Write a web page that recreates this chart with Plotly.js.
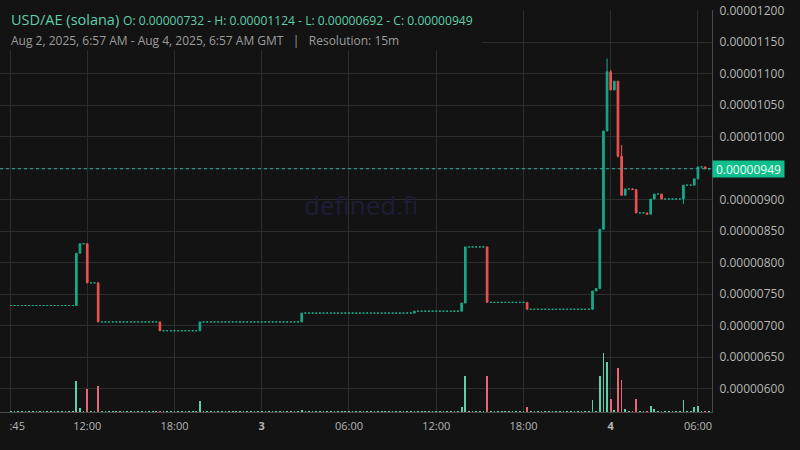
<!DOCTYPE html>
<html>
<head>
<meta charset="utf-8">
<script src="https://cdn.plot.ly/plotly-3.0.1.min.js"></script>
<style>
  html, body { margin: 0; padding: 0; background: #131313; }
  #myDiv { width: 800px; height: 450px; }
</style>
</head>
<body>
<div id="myDiv"></div>
<script>
// prices in units of 0.00000001, 15m candles from Aug 2 06:45 to Aug 4 06:45 (GMT)
var open = [
  732,732,732,732,732,732,732,732,732,
  732,732,732,732,732,732,732,732,732,
  732,815,830,830,768,768,768,
  706,706,706,706,706,706,706,706,
  706,706,706,706,706,706,706,706,
  706,
  692,692,692,692,692,692,692,692,692,692,
  692,
  706,706,706,706,706,706,706,706,706,
  706,706,706,706,706,706,706,706,706,
  706,706,706,706,706,706,706,706,706,
  706,
  720,720,720,720,720,720,720,720,720,720,
  720,720,720,720,720,720,720,720,720,720,
  720,720,720,720,720,720,720,720,720,720,
  720,
  723,723,723,723,723,723,723,723,723,723,723,723,
  723,736,
  825,825,825,825,825,
  825,
  737,737,737,737,737,737,737,737,737,737,
  737,
  726,726,726,726,726,726,726,726,726,
  726,726,726,726,726,726,726,726,
  726,755,759,853,1009,1103,1074,1088,969,907,
  917,917,916,879,879,879,877,901,909,909,
  901,901,901,901,901,
  901,923,923,923,933,952,952,949
];
var high = [
  732,732,732,732,732,732,732,732,732,
  732,732,732,732,732,732,732,732,732,
  815,830,830,830,768,768,768,
  706,706,706,706,706,706,706,706,
  706,706,706,706,706,706,706,706,
  706,
  692,692,692,692,692,692,692,692,692,692,
  706,
  706,706,706,706,706,706,706,706,706,
  706,706,706,706,706,706,706,706,706,
  706,706,706,706,706,706,706,706,706,
  720,
  720,720,720,720,720,720,720,720,720,720,
  720,720,720,720,720,720,720,720,720,720,
  720,720,720,720,720,720,720,720,720,720,
  723,
  723,723,723,723,723,723,723,723,723,723,723,723,
  736,825,
  825,825,825,825,825,
  825,
  737,737,737,737,737,737,737,737,737,737,
  737,
  726,726,726,726,726,726,726,726,726,
  726,726,726,726,726,726,726,726,
  755,759,853,1009,1124,1106,1088,1088,987,917,
  917,918,916,879,879,879,901,909,909,909,
  901,901,901,901,901,
  923,923,923,933,952,952,952,949
];
var low = [
  732,732,732,732,732,732,732,732,732,
  732,732,732,732,732,732,732,732,732,
  732,815,830,768,768,768,706,
  706,706,706,706,706,706,706,706,
  706,706,706,706,706,706,706,706,
  692,
  692,692,692,692,692,692,692,692,692,692,
  692,
  706,706,706,706,706,706,706,706,706,
  706,706,706,706,706,706,706,706,706,
  706,706,706,706,706,706,706,706,706,
  706,
  720,720,720,720,720,720,720,720,720,720,
  720,720,720,720,720,720,720,720,720,720,
  720,720,720,720,720,720,720,720,720,720,
  720,
  723,723,723,723,723,723,723,723,723,723,723,723,
  723,736,
  825,825,825,825,825,
  737,
  737,737,737,737,737,737,737,737,737,737,
  726,
  726,726,726,726,726,726,726,726,726,
  726,726,726,726,726,726,726,726,
  726,755,759,853,1009,1074,1074,967,907,907,
  917,916,879,879,879,877,877,901,909,901,
  901,901,901,901,901,
  893,923,923,923,933,952,949,949
];
var close = [
  732,732,732,732,732,732,732,732,732,
  732,732,732,732,732,732,732,732,732,
  815,830,830,768,768,768,706,
  706,706,706,706,706,706,706,706,
  706,706,706,706,706,706,706,706,
  692,
  692,692,692,692,692,692,692,692,692,692,
  706,
  706,706,706,706,706,706,706,706,706,
  706,706,706,706,706,706,706,706,706,
  706,706,706,706,706,706,706,706,706,
  720,
  720,720,720,720,720,720,720,720,720,720,
  720,720,720,720,720,720,720,720,720,720,
  720,720,720,720,720,720,720,720,720,720,
  723,
  723,723,723,723,723,723,723,723,723,723,723,723,
  736,825,
  825,825,825,825,825,
  737,
  737,737,737,737,737,737,737,737,737,737,
  726,
  726,726,726,726,726,726,726,726,726,
  726,726,726,726,726,726,726,726,
  755,759,853,1009,1103,1074,1088,969,907,917,
  917,916,879,879,879,877,901,909,909,901,
  901,901,901,901,901,
  923,923,923,933,952,952,949,949
];
var volume = [
  1,1,1,1,1,1,1,1,1,
  1,1,1,1,1,1,1,1,1,
  31,4,1,23,1,1,26,
  1,1,1,1,1,1,1,1,
  1,1,1,1,1,1,1,1,
  1.5,
  1,1,1,1,1,1,1,1,1,1,
  11,
  1,1,1,1,1,1,1,1,1,
  1,1,1,1,1,1,1,1,1,
  1,1,1,1,1,1,1,1,1,
  2,
  1,1,1,1,1,1,1,1,1,1,
  1,1,1,1,1,1,1,1,1,1,
  1,1,1,1,1,1,1,1,1,1,
  1,
  1,1,1,1,1,1,1,1,1,1,1,1,
  5,36,
  1,1,1,1,1,
  36,
  1,1,1,1,1,1,1,1,1,1,
  5,
  1,1,1,1,1,1,1,1,1,
  1,1,1,1,1,1,1,1,
  12,1.5,36,59,50,13,2,44,32,3,
  1,1.5,13,1,1,1.5,6,3,1,1.5,
  1,1,1,1,1,
  12,1,1,5,6,1,1.5,1
];
var tickTimes = ['2025-08-02 06:45','2025-08-02 12:00','2025-08-02 18:00','2025-08-03 00:00',
  '2025-08-03 06:00','2025-08-03 12:00','2025-08-03 18:00','2025-08-04 00:00','2025-08-04 06:00'];
var tickLabels = ['06:45','12:00','18:00','<b>3</b>','06:00','12:00','18:00','<b>4</b>','06:00'];
var priceTicks = [600,650,700,750,800,850,900,950,1000,1050,1100,1150,1200];
var lastPrice = 949;

var SCALE = 1e-8;
var GREEN = '#17a98a';
var RED = '#ef5350';

var start = Date.UTC(2025, 7, 2, 6, 45);
var times = [];
for (var i = 0; i < close.length; i++) {
  var d = new Date(start + i * 15 * 60000);
  times.push(d.toISOString().slice(0, 16).replace('T', ' '));
}

// flat candles are drawn as teal dashes, the others as normal candles
var mov = {x: [], o: [], h: [], l: [], c: []};
var flat = {x: [], o: [], h: [], l: [], c: []};
var volColors = [];
for (var i = 0; i < close.length; i++) {
  var t = (open[i] === close[i]) ? flat : mov;
  t.x.push(times[i]);
  t.o.push(open[i] * SCALE);
  t.h.push(high[i] * SCALE);
  t.l.push(low[i] * SCALE);
  t.c.push(close[i] * SCALE);
  volColors.push(close[i] < open[i] ? '#e2687a' : '#5ccfac');
}

// price tick labels, the one under the last price box stays empty
var yVals = [], yText = [];
for (var i = 0; i < priceTicks.length; i++) {
  yVals.push(priceTicks[i] * SCALE);
  yText.push(Math.abs(priceTicks[i] - lastPrice) < 10 ? '' : (priceTicks[i] * SCALE).toFixed(8));
}

var vol = {
  x: times, y: volume, type: 'bar', yaxis: 'y2',
  marker: {color: volColors, line: {width: 0}},
  width: 7 * 60000, hoverinfo: 'skip'
};
var flatTrace = {
  x: flat.x, open: flat.o, high: flat.h, low: flat.l, close: flat.c,
  type: 'candlestick',
  increasing: {line: {color: GREEN, width: 1}, fillcolor: GREEN},
  decreasing: {line: {color: GREEN, width: 1}, fillcolor: GREEN},
  hoverinfo: 'skip'
};
var movTrace = {
  x: mov.x, open: mov.o, high: mov.h, low: mov.l, close: mov.c,
  type: 'candlestick',
  increasing: {line: {color: GREEN, width: 1}, fillcolor: GREEN},
  decreasing: {line: {color: RED, width: 1}, fillcolor: RED},
  hoverinfo: 'skip'
};

var font = 'Open Sans, Noto Sans, sans-serif';
var plotTop = 10, plotBottom = 412, plotRight = 712;
function py(pix) { return (plotBottom - pix) / (plotBottom - plotTop); }
function px(pix) { return pix / plotRight; }

var layout = {
  width: 800, height: 450,
  paper_bgcolor: '#131313', plot_bgcolor: '#131313',
  margin: {l: 0, r: 88, t: 10, b: 38},
  showlegend: false,
  boxgap: 0.35,
  bargap: 0,
  font: {family: font, color: '#b5b5b5', size: 11},
  xaxis: {
    type: 'date',
    range: ['2025-08-02 06:00', '2025-08-04 06:58'],
    rangeslider: {visible: false},
    tickmode: 'array', tickvals: tickTimes, ticktext: tickLabels,
    ticklabeloverflow: 'allow',
    showgrid: true, gridcolor: '#2d2d2d', gridwidth: 1,
    showline: true, linecolor: '#4a4a4a', linewidth: 1,
    ticks: '', ticklabelstandoff: 4,
    tickfont: {family: font, size: 11, color: '#b5b5b5'},
    zeroline: false
  },
  yaxis: {
    side: 'right',
    range: [563 * SCALE, 1201 * SCALE],
    tickmode: 'array', tickvals: yVals, ticktext: yText,
    showgrid: true, gridcolor: '#2d2d2d', gridwidth: 1,
    showline: true, linecolor: '#4a4a4a', linewidth: 1,
    ticks: '', ticklabelstandoff: 4,
    tickfont: {family: font, size: 12, color: '#b5b5b5'},
    zeroline: false
  },
  yaxis2: {
    overlaying: 'y', range: [0, plotBottom - plotTop],
    visible: false, showgrid: false, zeroline: false
  },
  shapes: [
    {type: 'line', xref: 'paper', yref: 'y', x0: 0, x1: 1,
     y0: lastPrice * SCALE, y1: lastPrice * SCALE,
     line: {color: '#2bb59a', width: 1, dash: 'dot'}},
    {type: 'rect', xref: 'paper', yref: 'paper', x0: -0.01, x1: px(482),
     y0: py(50), y1: 1.05, fillcolor: '#131313', line: {width: 0}, layer: 'above'},
    {type: 'rect', xref: 'paper', yref: 'paper', x0: -0.02, x1: px(9.5),
     y0: py(450), y1: py(413), fillcolor: '#131313', line: {width: 0}, layer: 'above'}
  ],
  annotations: [
    {xref: 'paper', yref: 'paper', x: px(361), y: py(205), showarrow: false,
     text: 'defined.fi', font: {family: font, size: 26, color: '#1d1d38'}},
    {xref: 'paper', yref: 'paper', x: px(9), y: py(19.5), xanchor: 'left', yanchor: 'middle',
     showarrow: false, text: 'USD/AE (solana)',
     font: {family: font, size: 14.5, color: '#5ecfac'}},
    {xref: 'paper', yref: 'paper', x: px(121), y: py(20), xanchor: 'left', yanchor: 'middle',
     showarrow: false, text: 'O: 0.00000732 - H: 0.00001124 - L: 0.00000692 - C: 0.00000949',
     font: {family: font, size: 12.1, color: '#5ecfac'}},
    {xref: 'paper', yref: 'paper', x: px(9), y: py(40.5), xanchor: 'left', yanchor: 'middle',
     showarrow: false,
     text: 'Aug 2, 2025, 6:57 AM - Aug 4, 2025, 6:57 AM GMT\u00a0\u00a0\u00a0|\u00a0\u00a0\u00a0Resolution: 15m',
     font: {family: font, size: 12, color: '#9c9c9c'}},
    {xref: 'paper', yref: 'y', x: 1, y: lastPrice * SCALE, xanchor: 'left', yanchor: 'middle',
     showarrow: false, text: (lastPrice * SCALE).toFixed(8),
     bgcolor: '#10bd8c', borderpad: 2, width: 67, height: 12,
     font: {family: font, size: 12, color: '#effff8'}}
  ]
};

Plotly.newPlot('myDiv', [vol, flatTrace, movTrace], layout, {staticPlot: true, displayModeBar: false});
</script>
</body>
</html>
